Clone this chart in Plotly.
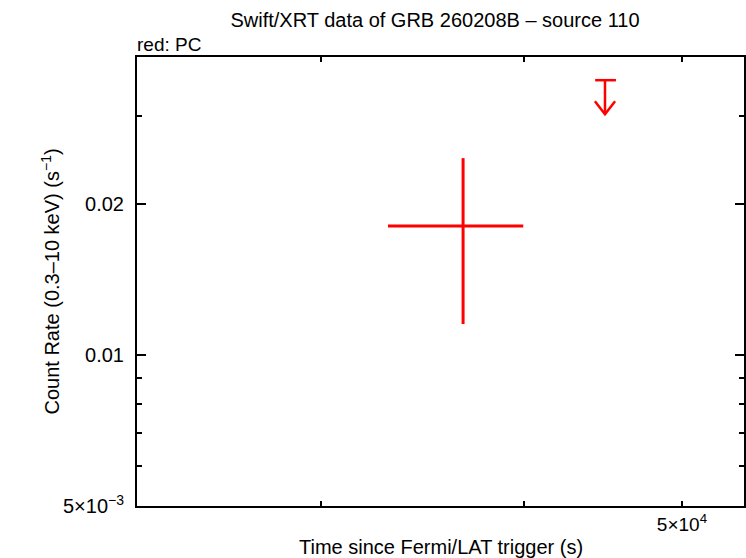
import plotly.graph_objects as go
import math

# Data
pc_time = [36680.0]
pc_time_lo = [32980.0]
pc_time_hi = [39940.0]
pc_rate = [0.01808]
pc_rate_lo = [0.01153]
pc_rate_hi = [0.02470]

ul_time = [44840.0]
ul_time_lo = [44220.0]
ul_time_hi = [45540.0]
ul_rate = [0.03533]

x_tickvals = [30000, 40000, 50000]
x_ticktext = ["", "", "5×10<sup>4</sup>"]
y_tickvals = [0.005, 0.01, 0.02]
y_ticktext = ["5×10<sup>−3</sup>", "0.01", "0.02"]
y_minor = [0.006, 0.007, 0.008, 0.009, 0.03]

RED = "#ff0000"
FONT = "Liberation Sans, Arial, sans-serif"
FS = 20

fig = go.Figure()

fig.add_trace(go.Scatter(
    x=pc_time, y=pc_rate, mode="markers",
    marker=dict(size=1, color=RED),
    error_x=dict(type="data", symmetric=False,
                 array=[h - t for h, t in zip(pc_time_hi, pc_time)],
                 arrayminus=[t - l for t, l in zip(pc_time, pc_time_lo)],
                 color=RED, thickness=3, width=0),
    error_y=dict(type="data", symmetric=False,
                 array=[h - r for h, r in zip(pc_rate_hi, pc_rate)],
                 arrayminus=[r - l for r, l in zip(pc_rate, pc_rate_lo)],
                 color=RED, thickness=3, width=0),
    showlegend=False, hoverinfo="skip"))

# Upper limit: bar + arrow drawn from the data value
shaft_dex = 0.068   # arrow length in decades of rate
head_dy = 0.026     # head height in decades of rate
head_dx = 0.0062    # head half width in decades of time
ux, uy = [], []
for t, lo, hi, r in zip(ul_time, ul_time_lo, ul_time_hi, ul_rate):
    tip = r * 10 ** (-shaft_dex)
    ux += [lo, hi, None, t, t, None,
           t * 10 ** (-head_dx), t, t * 10 ** (head_dx), None]
    uy += [r, r, None, r, tip, None,
           tip * 10 ** head_dy, tip, tip * 10 ** head_dy, None]
fig.add_trace(go.Scatter(x=ux, y=uy, mode="lines",
                         line=dict(color=RED, width=2.5),
                         showlegend=False, hoverinfo="skip"))

fig.update_layout(
    width=746, height=558,
    margin=dict(l=137, r=2, t=57, b=52, autoexpand=False),
    paper_bgcolor="white", plot_bgcolor="white",
    font=dict(family=FONT, size=FS, color="black"),
    title=dict(text="Swift/XRT data of GRB 260208B – source 110",
               x=435 / 746, xref="container", xanchor="center",
               y=1 - 20 / 558, yref="container", yanchor="middle",
               font=dict(size=FS), automargin=False),
    annotations=[
        dict(text="red: PC", xref="paper", yref="paper",
             x=0, y=1, xanchor="left", yanchor="bottom",
             xshift=-2, yshift=0, showarrow=False, font=dict(size=FS - 1)),
        dict(text="Time since Fermi/LAT trigger (s)", xref="paper",
             yref="paper", x=0.5, y=0, xanchor="center", yanchor="middle",
             yshift=-41, showarrow=False, font=dict(size=FS)),
        dict(text="Count Rate (0.3–10 keV) (s<sup>−1</sup>)", xref="paper",
             yref="paper", x=0, y=0.5, xanchor="center", yanchor="middle",
             xshift=-87, textangle=-90, showarrow=False,
             font=dict(size=FS)),
    ],
)

fig.update_xaxes(
    type="log", range=[math.log10(23120), math.log10(54590)],
    tickmode="array", tickvals=x_tickvals, ticktext=x_ticktext,
    ticks="inside", ticklen=5, tickwidth=2, tickcolor="black",
    showline=True, linecolor="black", linewidth=2, mirror="ticks",
    showgrid=False, zeroline=False, automargin=False,
    tickfont=dict(size=FS - 1),
)
fig.update_yaxes(
    type="log", range=[math.log10(0.005), math.log10(0.0393)],
    tickmode="array", tickvals=y_tickvals, ticktext=y_ticktext,
    ticks="inside", ticklen=9, tickwidth=2, tickcolor="black",
    minor=dict(tickmode="array", tickvals=y_minor, ticks="inside",
               ticklen=5, tickwidth=2, tickcolor="black", showgrid=False),
    showline=True, linecolor="black", linewidth=2, mirror="ticks",
    showgrid=False, zeroline=False, automargin=False,
    ticklabelstandoff=7,
    tickfont=dict(size=FS),
)

fig.write_html(
    "out.html",
    config={"displayModeBar": False},
    post_script="document.body.style.margin='0';"
                "document.body.style.overflow='hidden';",
)
